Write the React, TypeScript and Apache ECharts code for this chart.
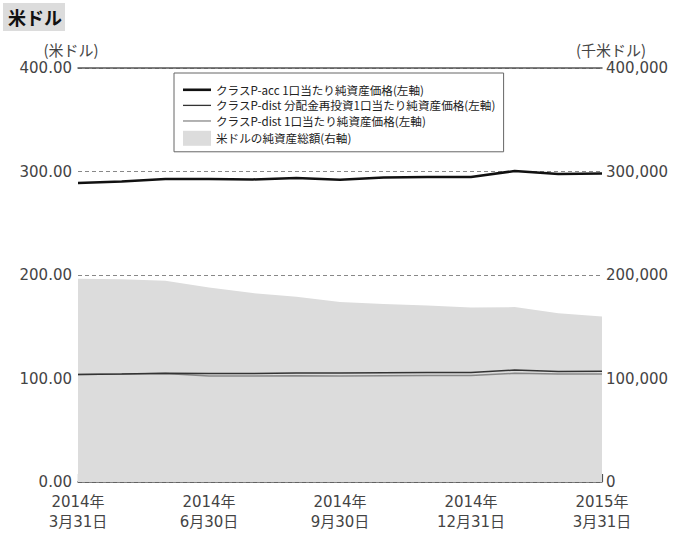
import React, { useEffect, useRef } from "react";
import * as echarts from "echarts";

const categories = [
  "2014年3月31日", "2014年4月30日", "2014年5月31日", "2014年6月30日",
  "2014年7月31日", "2014年8月31日", "2014年9月30日", "2014年10月31日",
  "2014年11月30日", "2014年12月31日", "2015年1月31日", "2015年2月28日",
  "2015年3月31日",
];
const navAcc = [289.0, 290.3, 292.8, 292.8, 292.3, 293.7, 292.0, 294.2, 294.7, 294.7, 300.5, 297.6, 298.0];
const navDistReinvested = [103.9, 104.3, 105.0, 104.8, 104.8, 105.3, 105.3, 105.6, 105.8, 105.8, 108.2, 106.8, 107.0];
const navDist = [103.9, 104.3, 104.8, 102.4, 102.4, 102.7, 102.4, 102.7, 102.9, 102.9, 105.0, 104.3, 104.3];
const netAssets = [196400, 196000, 194500, 188000, 182500, 179000, 174000, 172000, 170500, 168500, 169000, 163000, 160000];

const seriesNames = [
  "クラスP-acc 1口当たり純資産価格(左軸)",
  "クラスP-dist 分配金再投資1口当たり純資産価格(左軸)",
  "クラスP-dist 1口当たり純資産価格(左軸)",
  "米ドルの純資産総額(右軸)",
];

const NUM_FONT = "'DejaVu Sans', 'Noto Sans CJK JP', sans-serif";
const CJK_FONT = "'Noto Sans CJK JP', sans-serif";

export default function App() {
  const ref = useRef<HTMLDivElement>(null);
  useEffect(() => {
    document.body.style.margin = "0";
    const chart = echarts.init(ref.current!, undefined, { renderer: "svg" });
    chart.setOption({
      animation: false,
      backgroundColor: "#ffffff",
      title: {
        text: "米ドル",
        left: 3,
        top: 3,
        backgroundColor: "#dcdcdc",
        padding: [5, 3, 5, 5],
        textStyle: { fontSize: 18, fontWeight: "bold", color: "#111", fontFamily: CJK_FONT },
      },
      legend: {
        orient: "vertical",
        left: 174,
        top: 73,
        padding: [11, 8, 6, 9],
        itemGap: 4,
        itemWidth: 28,
        itemHeight: 15,
        symbolKeepAspect: true,
        backgroundColor: "#ffffff",
        borderColor: "#666",
        borderWidth: 1,
        textStyle: { fontSize: 11.6, color: "#222", fontFamily: CJK_FONT },
        data: [
          { name: seriesNames[0], icon: "path://M0,0h28v2.6h-28z", itemStyle: { color: "#111" } },
          { name: seriesNames[1], icon: "path://M0,0h28v1.3h-28z", itemStyle: { color: "#333" } },
          { name: seriesNames[2], icon: "path://M0,0h28v1.3h-28z", itemStyle: { color: "#888" } },
          { name: seriesNames[3], icon: "path://M0,0h28v15h-28z", itemStyle: { color: "#dcdcdc" } },
        ],
      },
      grid: { left: 78, right: 73, top: 68, bottom: 56, containLabel: false },
      xAxis: [
        {
          type: "category",
          data: categories,
          boundaryGap: false,
          axisLine: { onZero: false, lineStyle: { color: "#555", width: 1.5 } },
          axisTick: { inside: true, length: 8, interval: 2, lineStyle: { color: "#555", width: 1.2 } },
          axisLabel: {
            interval: 2,
            margin: 10,
            fontSize: 15,
            lineHeight: 20,
            color: "#444",
            fontFamily: NUM_FONT,
            formatter: (v: string) => v.replace("年", "年\n"),
          },
          splitLine: { show: false },
        },
        {
          type: "category",
          data: categories,
          position: "top",
          boundaryGap: false,
          axisLine: { show: true, onZero: false, lineStyle: { color: "#555", width: 1.5 } },
          axisTick: { show: false },
          axisLabel: { show: false },
          splitLine: { show: false },
        },
      ],
      yAxis: [
        {
          type: "value",
          min: 0,
          max: 400,
          interval: 100,
          name: "(米ドル)",
          nameLocation: "end",
          nameGap: 11,
          nameTextStyle: { fontSize: 15, color: "#444", fontFamily: CJK_FONT, align: "center", padding: [0, 14, 0, 0] },
          axisLine: { show: false },
          axisTick: { show: false },
          axisLabel: { margin: 6, fontSize: 15, color: "#444", fontFamily: NUM_FONT, formatter: (v: number) => v.toFixed(2) },
          splitLine: { show: true, lineStyle: { color: "#888", type: [4, 3], width: 1 } },
        },
        {
          type: "value",
          min: 0,
          max: 400000,
          interval: 100000,
          name: "(千米ドル)",
          nameLocation: "end",
          nameGap: 11,
          nameTextStyle: { fontSize: 15, color: "#444", fontFamily: CJK_FONT, align: "center", padding: [0, 0, 0, 18] },
          axisLine: { show: false },
          axisTick: { show: false },
          axisLabel: {
            margin: 4,
            fontSize: 15,
            color: "#444",
            fontFamily: NUM_FONT,
            formatter: (v: number) => v.toLocaleString("en-US"),
          },
          splitLine: { show: false },
        },
      ],
      series: [
        {
          name: seriesNames[3],
          type: "line",
          yAxisIndex: 1,
          data: netAssets,
          symbol: "none",
          lineStyle: { width: 0, color: "#dcdcdc" },
          itemStyle: { color: "#dcdcdc" },
          areaStyle: { color: "#dcdcdc", opacity: 1 },
          z: 1,
        },
        {
          name: seriesNames[0],
          type: "line",
          data: navAcc,
          symbol: "none",
          lineStyle: { width: 2.5, color: "#111" },
          itemStyle: { color: "#111" },
          z: 5,
        },
        {
          name: seriesNames[1],
          type: "line",
          data: navDistReinvested,
          symbol: "none",
          lineStyle: { width: 1.5, color: "#333" },
          itemStyle: { color: "#333" },
          z: 4,
        },
        {
          name: seriesNames[2],
          type: "line",
          data: navDist,
          symbol: "none",
          lineStyle: { width: 1.5, color: "#888" },
          itemStyle: { color: "#888" },
          z: 3,
        },
      ],
    });
    return () => chart.dispose();
  }, []);
  return <div ref={ref} style={{ width: 675, height: 538 }} />;
}
